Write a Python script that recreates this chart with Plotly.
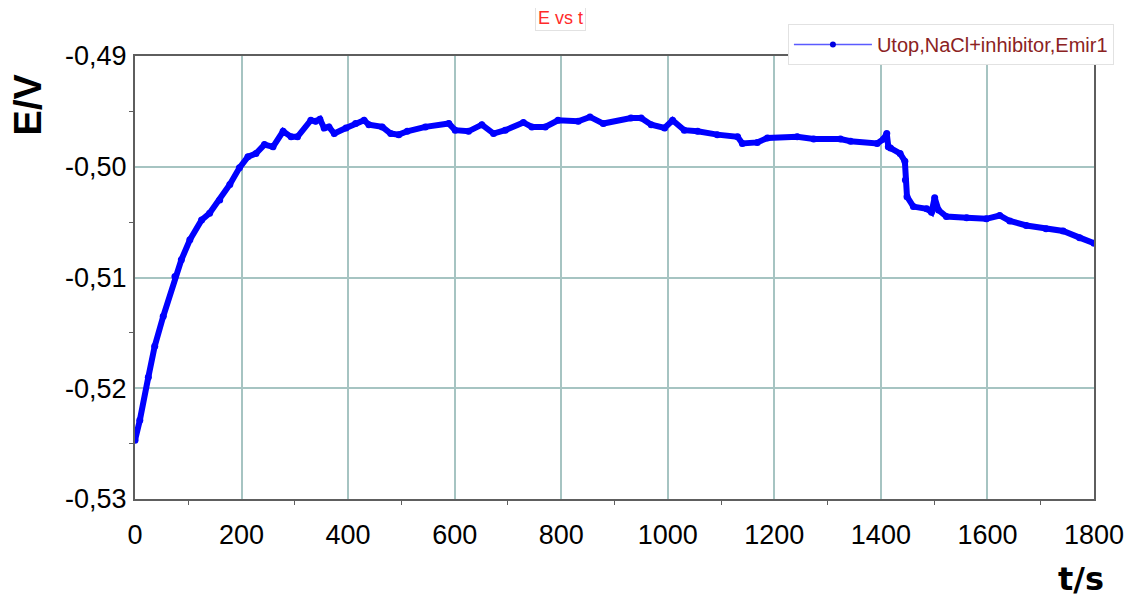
import plotly.graph_objects as go

# time (s) and potential (V)
t_s = [0, 9, 25, 37, 53, 75, 87, 103, 125, 140, 159, 178, 196, 212, 227, 243, 259, 278,
       293, 305, 330, 339, 347, 355, 364, 374, 396, 414, 430, 439, 464, 480, 495, 511,
       545, 589, 601, 626, 651, 673, 695, 729, 745, 770, 794, 832, 854, 879, 931, 950,
       969, 994, 1009, 1031, 1056, 1093, 1131, 1140, 1168, 1187, 1243, 1274, 1324, 1343,
       1393, 1405, 1411, 1414, 1418, 1436, 1445, 1446, 1449, 1461, 1486, 1495, 1501, 1508,
       1523, 1561, 1598, 1623, 1642, 1673, 1710, 1742, 1773, 1800]
E_V = [-0.5247, -0.5229, -0.5190, -0.5162, -0.5135, -0.5099, -0.5084, -0.5066, -0.5048,
       -0.5042, -0.5030, -0.5016, -0.5001, -0.4991, -0.4988, -0.4980, -0.4982, -0.4968,
       -0.4973, -0.4973, -0.4958, -0.4959, -0.4957, -0.4965, -0.4964, -0.4970, -0.4965,
       -0.4961, -0.4958, -0.4962, -0.4964, -0.4970, -0.4971, -0.4968,
       -0.4964, -0.4961, -0.4967, -0.4968, -0.4962, -0.4970, -0.4967, -0.4960, -0.4964,
       -0.4964, -0.4958, -0.4959, -0.4955, -0.4961, -0.4956, -0.4956, -0.4962, -0.4965,
       -0.4958, -0.4967, -0.4968, -0.4971, -0.4973, -0.4979, -0.4978, -0.4974, -0.4973,
       -0.4975, -0.4975, -0.4977, -0.4979, -0.4975, -0.4970, -0.4982, -0.4983, -0.4988,
       -0.4995, -0.5012, -0.5027, -0.5036, -0.5038, -0.5041, -0.5028, -0.5039, -0.5045,
       -0.5046, -0.5047, -0.5044, -0.5049, -0.5053, -0.5056, -0.5058, -0.5064, -0.5069]

x_ticks = [0, 200, 400, 600, 800, 1000, 1200, 1400, 1600, 1800]
x_minor = [100, 300, 500, 700, 900, 1100, 1300, 1500, 1700]
y_ticks = [-0.53, -0.52, -0.51, -0.50, -0.49]
y_tick_text = ["-0,53", "-0,52", "-0,51", "-0,50", "-0,49"]
y_minor = [-0.525, -0.515, -0.505, -0.495]

series_name = "Utop,NaCl+inhibitor,Emir1"
title_text = "E vs t"

fig = go.Figure()
# measured curve (dense markers forming a thick line)
fig.add_trace(go.Scatter(
    x=t_s, y=E_V, mode="lines+markers", name=series_name,
    line=dict(color="#0000FF", width=6),
    marker=dict(color="#0000FF", size=7),
    showlegend=False,
))
# legend entry styled like the reference (thin line with a dot)
fig.add_trace(go.Scatter(
    x=[None], y=[None], mode="lines+markers", name=series_name,
    line=dict(color="#5a5aff", width=1.3),
    marker=dict(color="#0000e0", size=6),
    showlegend=True,
))

grid_col = "#a6c4c2"
axis_col = "#5e5e5e"
fig.update_layout(
    width=1128, height=592,
    margin=dict(l=127, r=38, t=48, b=101),
    paper_bgcolor="white", plot_bgcolor="white",
    font=dict(family="Liberation Sans, Arial", color="black"),
    showlegend=True,
    legend=dict(
        x=(1118 - 135) / 963, xanchor="right", y=1 + (56 - 24) / 443, yanchor="top",
        bgcolor="white", bordercolor="#e2e2e2", borderwidth=1,
        font=dict(size=20, color="#8b2222", family="Liberation Sans, Arial"),
        itemwidth=78,
    ),
    xaxis=dict(
        range=[0, 1800], tickvals=x_ticks, ticktext=[str(v) for v in x_ticks],
        showgrid=True, gridcolor=grid_col, gridwidth=1.5,
        showline=True, linecolor=axis_col, linewidth=2, mirror=True,
        ticks="", tickfont=dict(size=27), zeroline=False, ticklabelstandoff=11,
        minor=dict(tickvals=x_minor, ticks="outside", ticklen=4,
                   tickcolor=axis_col, showgrid=False),
    ),
    yaxis=dict(
        range=[-0.53, -0.49], tickvals=y_ticks, ticktext=y_tick_text,
        showgrid=True, gridcolor=grid_col, gridwidth=1.5,
        showline=True, linecolor=axis_col, linewidth=2, mirror=True,
        ticks="", tickfont=dict(size=27), zeroline=False, ticklabelstandoff=1,
        minor=dict(tickvals=y_minor, ticks="outside", ticklen=4,
                   tickcolor=axis_col, showgrid=False),
    ),
    annotations=[
        dict(text=title_text, xref="paper", yref="paper",
             x=(562 - 135) / 963, y=1 + (56 - 18) / 443, xanchor="center", yanchor="middle",
             showarrow=False, font=dict(size=18, color="#ff2a2a"),
             bgcolor="white", bordercolor="#e2e2e2", borderwidth=1, borderpad=2),
        dict(text="<b>E/V</b>", xref="paper", yref="paper",
             x=(28 - 135) / 963, y=1 - (104 - 56) / 443, xanchor="center", yanchor="middle",
             showarrow=False, textangle=-90,
             font=dict(size=38, color="black", family="Liberation Sans, Arial")),
        dict(text="<b>t/s</b>", xref="paper", yref="paper",
             x=(1085 - 135) / 963, y=-(579 - 499) / 443, xanchor="center", yanchor="middle",
             showarrow=False,
             font=dict(size=32, color="black", family="DejaVu Sans")),
    ],
)

fig.write_html("out.html")
